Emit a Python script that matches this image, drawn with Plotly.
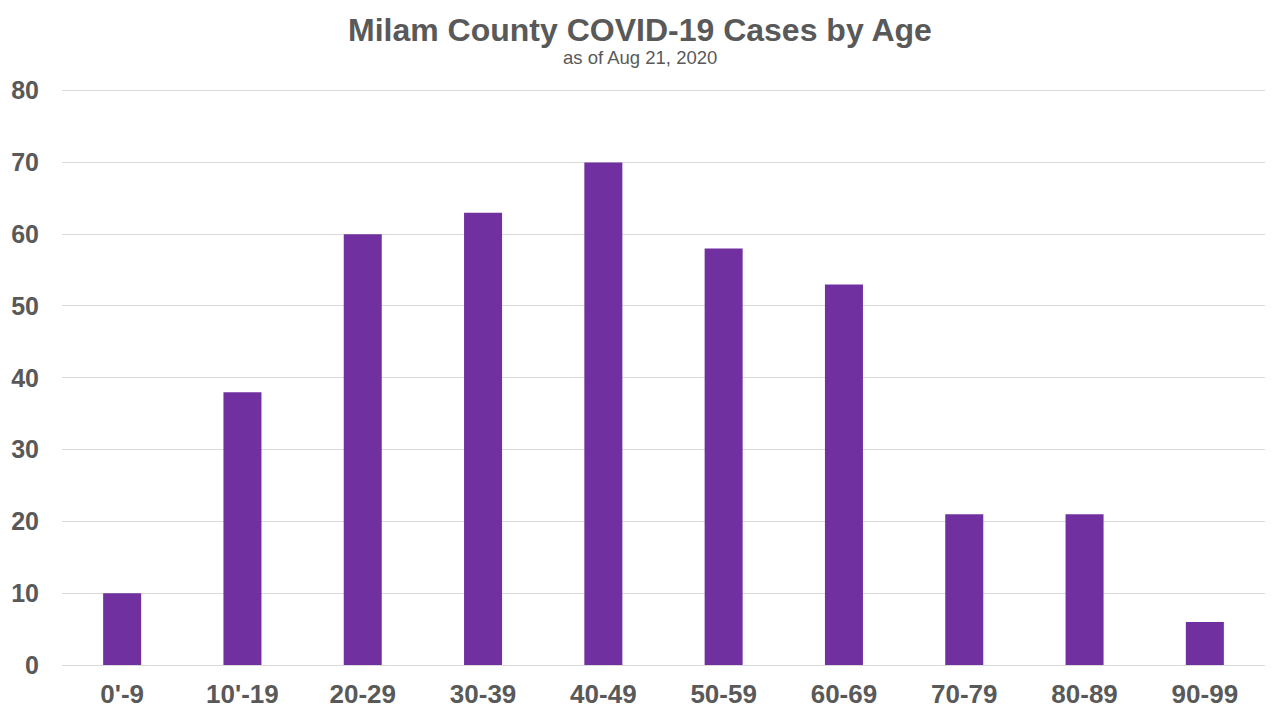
import plotly.graph_objects as go

categories = ["0'-9", "10'-19", "20-29", "30-39", "40-49", "50-59", "60-69", "70-79", "80-89", "90-99"]
cases = [10, 38, 60, 63, 70, 58, 53, 21, 21, 6]
y_ticks = [0, 10, 20, 30, 40, 50, 60, 70, 80]

FONT = "Liberation Sans, Arial, sans-serif"
GREY = "#595959"

# page has an 8px body margin; figure sized to fit the 1280x720 window
W, H = 1272, 712
Y_TOP = 80.5
L, R, B = 54, 15, 55
T = 83 - 574 * (Y_TOP - 80) / 80
plot_w = W - L - R
plot_h = H - T - B

fig = go.Figure()
fig.add_trace(go.Bar(x=categories, y=cases, marker=dict(color="#7030A0", line=dict(width=0)),
                     width=0.316))

def px_to_paper_x(px):
    return (px - 8 - L) / plot_w

def px_to_paper_y(py):
    return 1 + (T - (py - 8)) / plot_h

fig.update_layout(
    width=W, height=H,
    margin=dict(l=L, r=R, t=T, b=B, autoexpand=False),
    paper_bgcolor="white", plot_bgcolor="white",
    font=dict(family=FONT, color=GREY),
    showlegend=False,
    xaxis=dict(showgrid=False, showline=False, zeroline=False, ticks="", automargin=False,
               tickfont=dict(size=26, color=GREY, family=FONT, weight="bold"),
               ticklabelstandoff=11),
    yaxis=dict(range=[0, Y_TOP], tickvals=y_ticks, showgrid=True, gridcolor="#D9D9D9", gridwidth=1,
               zeroline=True, zerolinecolor="#D9D9D9", zerolinewidth=1, showline=False, ticks="",
               automargin=False,
               tickfont=dict(size=25, color=GREY, family=FONT, weight="bold"),
               ticklabelstandoff=22),
    annotations=[
        dict(text="<b>Milam County COVID-19 Cases by Age</b>", x=px_to_paper_x(640), xref="paper",
             xanchor="center", y=px_to_paper_y(30), yref="paper", yanchor="middle", showarrow=False,
             font=dict(size=32, color=GREY, family=FONT)),
        dict(text="as of Aug 21, 2020", x=px_to_paper_x(640), xref="paper", xanchor="center",
             y=px_to_paper_y(58), yref="paper", yanchor="middle", showarrow=False,
             font=dict(size=18.5, color=GREY, family=FONT)),
    ],
)

fig.write_html("out.html")
